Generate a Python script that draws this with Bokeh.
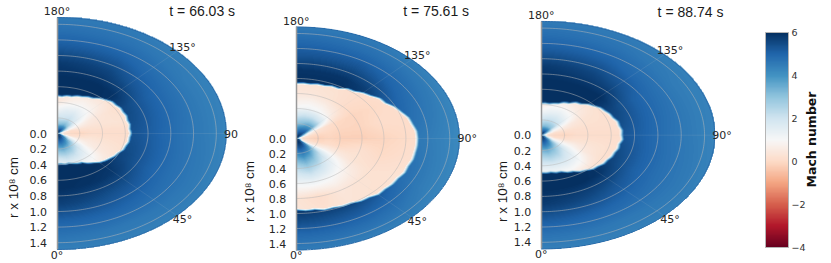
import numpy as np
from bokeh.embed import file_html
from bokeh.resources import INLINE
from bokeh.plotting import figure
from bokeh.layouts import row
from bokeh.models import (Range1d, LinearColorMapper, ColorBar, FixedTicker, Label,
                          CustomJSTickFormatter)

# ---------- chart values ----------
times = ["t = 66.03 s", "t = 75.61 s", "t = 88.74 s"]
r_ticks = [0.0, 0.2, 0.4, 0.6, 0.8, 1.0, 1.2, 1.4]
ring_radii = [0.2, 0.4, 0.6, 0.8, 1.0, 1.2, 1.4]
spoke_angles = [45, 90, 135]
r_outer = 1.487
cbar_ticks = [-4, -2, 0, 2, 4, 6]

shock_angles = list(range(0, 185, 5))
shock_1 = [.39,.39,.40,.395,.41,.425,.43,.465,.49,.525,.545,.56,.58,.59,.615,.62,.635,.635,.645,.635,.645,.635,.645,.635,.64,.625,.625,.60,.58,.545,.535,.515,.505,.485,.485,.47,.475]
shock_2 = [.95,.965,.96,.985,.98,.995,.995,1.02,1.025,1.055,1.05,1.065,1.065,1.085,1.08,1.095,1.095,1.10,1.10,1.095,1.07,1.055,1.015,.985,.935,.925,.88,.855,.815,.805,.765,.765,.745,.745,.73,.735,.73]
shock_3 = [.49,.495,.49,.505,.505,.535,.545,.58,.595,.625,.63,.65,.65,.665,.665,.68,.675,.695,.685,.69,.675,.675,.65,.645,.625,.615,.585,.565,.525,.515,.475,.465,.435,.425,.41,.415,.41]

# Mach number behind the shock: rows = angle, columns = radius
inner_angles = [0, 15, 30, 45, 60, 75, 90, 105, 120, 135, 150, 165, 180]
inner_radii = [.02, .06, .12, .20, .30, .42, .60, .80, 1.10]
inner_1 = [
    [6, 5.5, 4.6, 3.4, 2.2, .9, .5, .3, .3],
    [6, 5.6, 4.8, 3.6, 2.4, 1.4, .5, .3, .3],
    [6, 5.4, 4.4, 3.2, 2.2, 1.3, .5, .3, .3],
    [6, 5.2, 3.6, 2.4, 1.6, 1.1, .4, .2, .2],
    [5, 3.4, 1.6, 1.0, .7, .5, .3, .2, .2],
    [3, .5, .2, .3, .4, .3, .2, .1, .1],
    [2, .3, 0, -.1, .1, .1, .1, .2, .2],
    [3, .6, .1, .3, .3, .3, .3, .2, .2],
    [5, 3, 1.4, .9, .6, .4, .2, .2, .2],
    [6, 5, 3, 1.8, 1.3, .8, .3, .2, .2],
    [6, 5, 3.4, 2.2, 1.6, .9, .3, .2, .2],
    [6, 4.8, 3.2, 2.0, 1.5, .7, .3, .2, .2],
    [6, 4.6, 3.0, 2.0, 1.2, .4, .2, .2, .2],
]
inner_2 = [
    [6, 5.8, 5.2, 4.2, 3.2, 2.2, 1.2, .3, .4],
    [6, 5.9, 5.4, 4.6, 3.6, 2.6, 1.3, .1, .3],
    [6, 5.8, 5.2, 4.2, 3.2, 2.2, 1.1, .4, .3],
    [6, 5.4, 4.4, 3.2, 2.2, 1.5, .8, .3, .2],
    [6, .9, .5, .7, .8, .6, .3, .2, .3],
    [3, .3, .1, 0, .1, 0, .2, 0, .2],
    [2, .1, -.1, -.2, -.1, -.2, -.2, -.1, .1],
    [2, .4, .1, 0, 0, -.1, -.1, .1, .1],
    [5, 3, 1.0, .4, .2, 0, -.1, 0, .2],
    [6, 5.6, 5, 3.6, 2.0, .7, .1, .1, .2],
    [6, 5.6, 4.8, 3.6, 2.2, 1.0, .3, .2, .2],
    [6, 5.4, 4.6, 3.2, 2.2, 1.1, .4, .2, .3],
    [6, 5, 4.2, 3, 2, 1, .4, .3, .3],
]
inner_3 = [
    [6, 5.5, 4.6, 3.4, 2.4, 1.5, .4, .3, .3],
    [6, 5.6, 4.8, 3.6, 2.6, 1.6, .5, .3, .3],
    [6, 5.4, 4.4, 3.2, 2.4, 1.6, .5, .2, .2],
    [6, 5, 3.4, 2.4, 1.8, 1.3, .3, .2, .2],
    [5, 2.5, 1.2, 1, .9, .5, .2, .2, .2],
    [3, .4, .1, .2, .3, .3, .2, .2, .2],
    [2, .2, 0, -.1, .1, .1, .1, .2, .2],
    [3, .6, .2, .2, .2, .2, .2, .2, .2],
    [5, 3, 1.2, .8, .5, .3, .2, .2, .2],
    [6, 5, 3, 2, 1.3, .6, .2, .2, .2],
    [6, 5, 3.2, 2.2, 1.5, .8, .2, .2, .2],
    [6, 4.8, 3.2, 2.2, 1.4, .8, .3, .2, .2],
    [6, 4.6, 3, 2, 1.2, .4, .2, .2, .2],
]

# Mach number ahead of the shock: rows = angle, columns = radius
outer_angles = [0, 30, 45, 60, 90, 120, 135, 150, 180]
outer_radii = [.3, .5, .7, .9, 1.1, 1.3, 1.5]
outer_1 = [
    [6, 6, 6, 5.7, 5.1, 4.7, 4.4],
    [6, 6, 5.9, 5.4, 5.0, 4.6, 4.4],
    [6, 6, 5.8, 5.3, 4.9, 4.6, 4.4],
    [5.8, 5.8, 5.5, 5.1, 4.8, 4.6, 4.4],
    [5.5, 5.5, 5.3, 5.0, 4.7, 4.5, 4.3],
    [5.8, 5.8, 5.5, 5.1, 4.8, 4.5, 4.4],
    [6, 6, 5.9, 5.3, 4.9, 4.6, 4.4],
    [6, 6, 6, 5.6, 5.1, 4.7, 4.5],
    [6, 6, 6, 5.8, 5.2, 4.8, 4.5],
]
outer_2 = [
    [6, 6, 6, 6, 5.5, 4.9, 4.5],
    [6, 6, 6, 5.9, 5.3, 4.8, 4.4],
    [6, 6, 6, 5.7, 5.1, 4.7, 4.4],
    [5.7, 5.7, 5.7, 5.3, 4.8, 4.5, 4.3],
    [5.1, 5.1, 5.1, 4.9, 4.6, 4.4, 4.2],
    [5.7, 5.7, 5.7, 5.3, 4.9, 4.6, 4.3],
    [6, 6, 6, 5.7, 5.1, 4.7, 4.4],
    [6, 6, 6, 5.9, 5.3, 4.8, 4.5],
    [6, 6, 6, 5.9, 5.3, 4.9, 4.5],
]
outer_3 = [
    [6, 6, 6, 5.8, 5.2, 4.7, 4.4],
    [6, 6, 6, 5.5, 5.0, 4.6, 4.4],
    [6, 6, 5.9, 5.3, 4.9, 4.6, 4.4],
    [5.8, 5.8, 5.6, 5.1, 4.8, 4.6, 4.4],
    [5.5, 5.5, 5.3, 5.0, 4.7, 4.5, 4.3],
    [5.8, 5.8, 5.6, 5.1, 4.8, 4.5, 4.4],
    [6, 6, 6, 5.4, 4.9, 4.6, 4.4],
    [6, 6, 6, 5.6, 5.1, 4.7, 4.5],
    [6, 6, 6, 5.8, 5.2, 4.8, 4.5],
]

# ---------- styles ----------
rdbu = ["#67001f", "#b2182b", "#d6604d", "#f4a582", "#fddbc7", "#f7f7f7",
        "#d1e5f0", "#92c5de", "#4393c3", "#2166ac", "#053061"]
anchors = np.array([[int(c[i:i + 2], 16) for i in (1, 3, 5)] for c in rdbu], float)
t = np.linspace(0, 10, 256)
palette = ["#%02x%02x%02x" % tuple(int(round(np.interp(v, range(11), anchors[:, k]))) for k in range(3)) for v in t]
mapper = LinearColorMapper(palette=palette, low=-4, high=6, nan_color="#ffffff00")

H = 263
panels = [
    dict(w=240, page_x=0, cx=56.5, cy=133.0, sx=113.8, sy=78.0, shock=shock_1, inner=inner_1, outer=outer_1,
         title=times[0], title_px=(201.7, 10), rlab_px=(13, 187), ninety="90", ninety_r=1.53),
    dict(w=254, page_x=240, cx=295.7, cy=138.0, sx=109.7, sy=75.0, shock=shock_2, inner=inner_2, outer=outer_2,
         title=times[1], title_px=(435.7, 10), rlab_px=(249, 191), ninety="90°", ninety_r=1.56),
    dict(w=337, page_x=494, cx=540.7, cy=134.7, sx=116.7, sy=76.5, shock=shock_3, inner=inner_3, outer=outer_3,
         title=times[2], title_px=(690, 11), rlab_px=(502, 191), ninety="90°", ninety_r=1.55),
]


def bilinear(th_axis, r_axis, table, th, r):
    table = np.asarray(table, float)
    th_axis = np.asarray(th_axis, float)
    r_axis = np.asarray(r_axis, float)
    i = np.clip(np.searchsorted(th_axis, th) - 1, 0, len(th_axis) - 2)
    j = np.clip(np.searchsorted(r_axis, r) - 1, 0, len(r_axis) - 2)
    a = np.clip((th - th_axis[i]) / (th_axis[i + 1] - th_axis[i]), 0, 1)
    b = np.clip((r - r_axis[j]) / (r_axis[j + 1] - r_axis[j]), 0, 1)
    return ((1 - a) * (1 - b) * table[i, j] + a * (1 - b) * table[i + 1, j]
            + (1 - a) * b * table[i, j + 1] + a * b * table[i + 1, j + 1])


def mach_field(panel):
    nx = int(round(r_outer * panel["sx"])) * 2
    ny = int(round(2 * r_outer * panel["sy"])) * 2
    xs = (np.arange(nx) + .5) / nx * r_outer
    ys = -r_outer + (np.arange(ny) + .5) / ny * 2 * r_outer
    X, Y = np.meshgrid(xs, ys)
    R = np.hypot(X, Y)
    TH = np.degrees(np.arctan2(X, -Y))
    front = np.interp(TH, shock_angles, panel["shock"])
    inn = bilinear(inner_angles, inner_radii, panel["inner"], TH, R)
    out = bilinear(outer_angles, outer_radii, panel["outer"], TH, R)
    w = np.clip((R - front) / 0.035 + .5, 0, 1)
    M = inn * (1 - w) + out * w
    M[R > r_outer] = np.nan
    return M


def half_ring(rad):
    th = np.radians(np.linspace(0, 180, 181))
    return rad * np.sin(th), -rad * np.cos(th)


figs = []
for k, P in enumerate(panels):
    left = (P["page_x"] - P["cx"]) / P["sx"]
    right = (P["page_x"] + P["w"] - P["cx"]) / P["sx"]
    tx = lambda px: (px - P["cx"]) / P["sx"]
    ty = lambda py: (P["cy"] - py) / P["sy"]
    p = figure(width=P["w"], height=H, output_backend="svg", toolbar_location=None,
               x_range=Range1d(left, right),
               y_range=Range1d(-(H - P["cy"]) / P["sy"], P["cy"] / P["sy"]),
               min_border_left=0, min_border_right=0, min_border_top=0, min_border_bottom=0,
               outline_line_color=None, background_fill_color="white", border_fill_color="white")
    p.xaxis.visible = False
    p.xgrid.visible = False
    p.ygrid.visible = False
    ax = p.yaxis[0]
    ax.fixed_location = 0
    ax.ticker = FixedTicker(ticks=[-v for v in r_ticks])
    ax.formatter = CustomJSTickFormatter(code="return Math.abs(tick).toFixed(1)")
    ax.bounds = (-r_outer, r_outer)
    ax.axis_line_color = "#9a9a9a"
    ax.axis_line_width = 1.5
    ax.major_tick_line_color = None
    ax.minor_tick_line_color = None
    ax.major_label_text_font = "DejaVu Sans"
    ax.major_label_text_font_size = "11px"
    ax.major_label_text_color = "#262626"
    ax.major_label_standoff = 4

    p.image(image=[mach_field(P)], x=0, y=-r_outer, dw=r_outer, dh=2 * r_outer, color_mapper=mapper)
    xr, yr = half_ring(r_outer)
    p.line(xr, yr, line_color="#2a6cab", line_width=1)
    rings = [half_ring(v) for v in ring_radii]
    p.multi_line([c[0].tolist() for c in rings], [c[1].tolist() for c in rings],
                 line_color="#b8b8b8", line_alpha=.65, line_width=.8)
    aa = np.radians(spoke_angles)
    p.segment(x0=[0] * len(aa), y0=[0] * len(aa), x1=r_outer * np.sin(aa), y1=-r_outer * np.cos(aa),
              line_color="#d0d0d0", line_alpha=.15, line_width=.8)

    for ang, txt in [(0, "0°"), (45, "45°"), (90, P["ninety"]), (135, "135°"), (180, "180°")]:
        a = np.radians(ang)
        rad = P["ninety_r"] if ang == 90 else 1.56
        p.add_layout(Label(x=rad * np.sin(a), y=-rad * np.cos(a), text=txt, text_align="center",
                           text_baseline="middle", text_font="DejaVu Sans", text_font_size="11px",
                           text_color="#262626"))
    p.add_layout(Label(x=tx(P["title_px"][0]), y=ty(P["title_px"][1]), text=P["title"],
                       text_align="center", text_baseline="middle", text_font="Liberation Sans",
                       text_font_size="14px", text_color="#1a1a1a"))
    p.add_layout(Label(x=tx(P["rlab_px"][0]), y=ty(P["rlab_px"][1]), text="r x 10\u2078 cm", angle=np.pi / 2,
                       text_align="center", text_baseline="middle", text_font="Liberation Sans",
                       text_font_size="13.5px", text_color="#1a1a1a"))
    figs.append(p)

p3 = figs[2]
P = panels[2]
cb = ColorBar(color_mapper=mapper, width=23, height=215, padding=0, margin=0,
              location=(765 - P["page_x"], H - 247),
              ticker=FixedTicker(ticks=cbar_ticks),
              formatter=CustomJSTickFormatter(code="return tick < 0 ? '\\u2212' + (-tick) : '' + tick"),
              major_label_text_font="DejaVu Sans", major_label_text_font_size="9.5px",
              major_label_text_color="#333333", label_standoff=3,
              major_tick_line_color=None, minor_tick_line_color=None,
              bar_line_color="#b5b5b5", bar_line_width=1, border_line_color=None,
              background_fill_color=None)
p3.add_layout(cb)
p3.add_layout(Label(x=(811 - P["cx"]) / P["sx"], y=(P["cy"] - 139) / P["sy"], text="Mach number",
                    angle=np.pi / 2, text_align="center", text_baseline="middle", text_font="DejaVu Sans",
                    text_font_style="bold", text_font_size="12.5px", text_color="#111111"))

layout = row(*figs, spacing=0)
open("out.html", "w").write(file_html(layout, INLINE))
